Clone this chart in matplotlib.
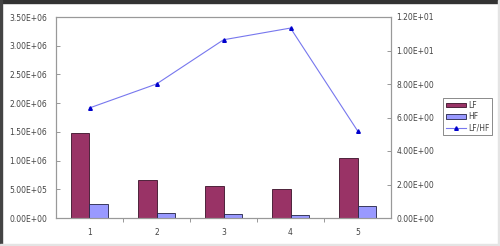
import matplotlib
matplotlib.use("Agg")
import matplotlib.pyplot as plt
from matplotlib.patches import Rectangle
from matplotlib.ticker import FuncFormatter
import numpy as np

categories = ["1", "2", "3", "4", "5"]
lf = [1.48e6, 0.66e6, 0.565e6, 0.51e6, 1.04e6]
hf = [0.24e6, 0.09e6, 0.07e6, 0.06e6, 0.21e6]
ratio = [6.57, 8.0, 10.64, 11.34, 5.21]

left_ticks = [0, 0.5e6, 1.0e6, 1.5e6, 2.0e6, 2.5e6, 3.0e6, 3.5e6]
right_ticks = [0, 2, 4, 6, 8, 10, 12]

def sci(v, pos=None):
    return "%.2E" % v

fig = plt.figure(figsize=(5.0, 2.46), dpi=100)
fig.patch.set_facecolor("white")
# screenshot frame
fig.patches.append(Rectangle((0, 1 - 2.5/246), 1, 2.5/246, transform=fig.transFigure, color="#333333", zorder=0))
fig.patches.append(Rectangle((0, 0), 2/500, 1, transform=fig.transFigure, color="#444444", zorder=0))
fig.patches.append(Rectangle((0, 0), 1, 2/246, transform=fig.transFigure, color="#e4e4e4", zorder=0))
fig.patches.append(Rectangle((1 - 2/500, 0), 2/500, 1, transform=fig.transFigure, color="#e4e4e4", zorder=0))

ax = fig.add_axes([56/500, (246-218)/246, (391-56)/500, (218-17)/246])
x = np.arange(1, len(categories) + 1)
w = 0.276
tc = "#444444"
b1 = ax.bar(x - w/2, lf, w, color="#993366", edgecolor="#3a1028", linewidth=0.6, label="LF", zorder=2)
b2 = ax.bar(x + w/2, hf, w, color="#9999ff", edgecolor="#222244", linewidth=0.6, label="HF", zorder=2)
ax.set_xlim(0.5, 5.5)
ax.set_ylim(0, 3.5e6)
ax.set_yticks(left_ticks)
ax.yaxis.set_major_formatter(FuncFormatter(sci))
ax.set_xticks(x)
ax.set_xticklabels(categories)
ax.set_xticks(np.arange(1.5, 5.5, 1.0), minor=True)
ax.tick_params(axis="x", which="major", length=0, labelsize=5.5, colors=tc, pad=7)
ax.tick_params(axis="x", which="minor", length=3, direction="out", color="#888888", width=0.6)
ax.tick_params(axis="y", direction="in", length=3, labelsize=5.5, labelcolor=tc, color="#888888", width=0.6, pad=6.5)
for s in ax.spines.values():
    s.set_color("#999999")
    s.set_linewidth(0.8)

ax2 = ax.twinx()
ln, = ax2.plot(x, ratio, color="#7777ee", linewidth=0.8, marker="^", markersize=2.6,
               markerfacecolor="#0000cc", markeredgecolor="#0000cc", label="LF/HF", zorder=3)
ax2.set_ylim(0, 12)
ax2.set_yticks(right_ticks)
ax2.yaxis.set_major_formatter(FuncFormatter(sci))
ax2.tick_params(axis="y", direction="in", length=3, labelsize=5.5, labelcolor=tc, color="#888888", width=0.6, pad=4)
for s in ax2.spines.values():
    s.set_color("#999999")
    s.set_linewidth(0.8)

leg = fig.legend([b1, b2, ln], ["LF", "HF", "LF/HF"], loc="upper left",
                 bbox_to_anchor=(443/500, 1 - 98/246), fontsize=5.5, frameon=True,
                 fancybox=False, edgecolor="#555555", handlelength=2.6, handleheight=0.6,
                 borderpad=0.35, labelspacing=0.3, handletextpad=0.3, borderaxespad=0)
leg.get_frame().set_linewidth(0.6)
for t in leg.get_texts():
    t.set_color(tc)

fig.savefig("out.png", dpi=100, facecolor="white")
